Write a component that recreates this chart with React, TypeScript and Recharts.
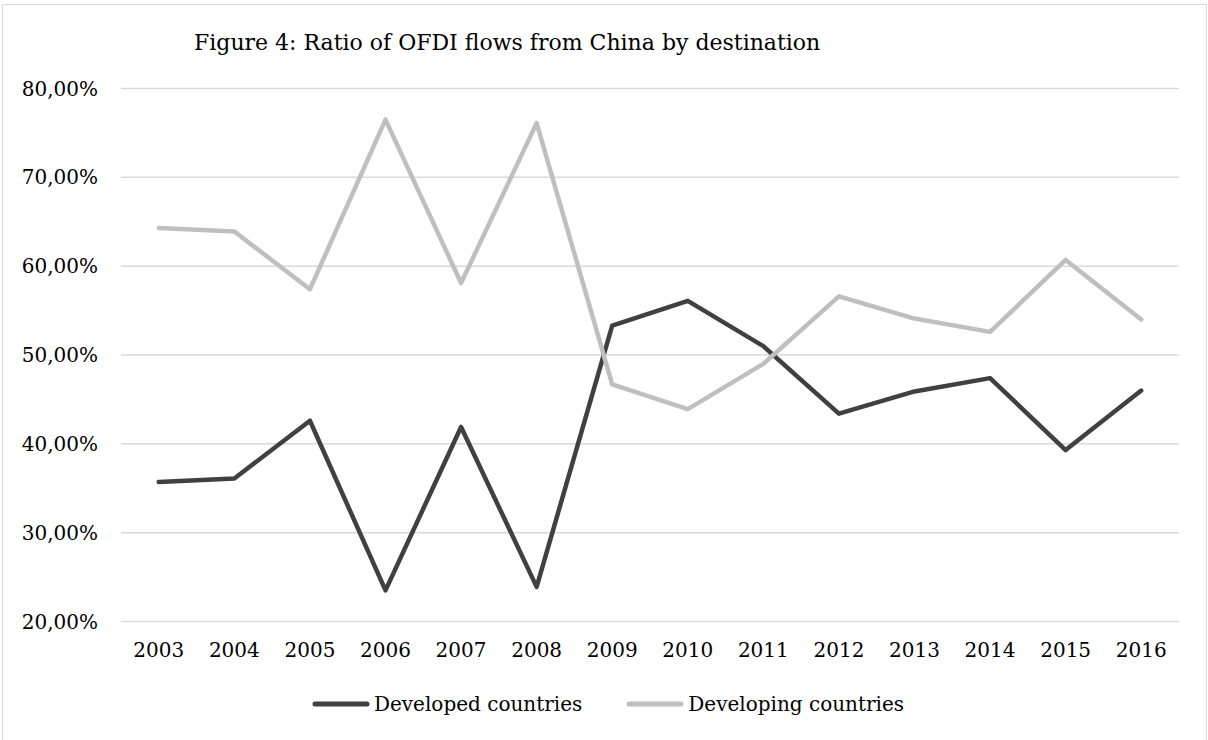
import React from "react";
import { LineChart, Line, XAxis, YAxis, CartesianGrid, Legend } from "recharts";

const years = ["2003", "2004", "2005", "2006", "2007", "2008", "2009", "2010", "2011", "2012", "2013", "2014", "2015", "2016"];
const developed = [35.7, 36.1, 42.6, 23.5, 41.9, 23.9, 53.3, 56.1, 51.0, 43.4, 45.9, 47.4, 39.3, 46.0];
const developing = [64.3, 63.9, 57.4, 76.5, 58.1, 76.1, 46.7, 43.9, 49.0, 56.6, 54.1, 52.6, 60.7, 54.0];
const yTicks = [20, 30, 40, 50, 60, 70, 80];

const data = years.map((year, i) => ({
  year,
  developed: developed[i] / 100,
  developing: developing[i] / 100,
}));

const FONT = "'DejaVu Serif', serif";
const DARK = "#404040";
const LIGHT = "#bfbfbf";

const pct = (v: number) => (v * 100).toFixed(2).replace(".", ",") + "%";

// half a category band on each side, so years sit in the middle of their slot
const BAND_PAD = (1208 - 121 - 29) / years.length / 2;

function LegendRow({ payload }: any) {
  return (
    <div style={{ display: "flex", justifyContent: "center", alignItems: "center", gap: 44, fontFamily: FONT, fontSize: 20, color: "#000", paddingLeft: 8 }}>
      {(payload || []).map((item: any) => (
        <div key={item.value} style={{ display: "flex", alignItems: "center", gap: 4 }}>
          <svg width={58} height={8}>
            <line x1={3} y1={4} x2={55} y2={4} stroke={item.color} strokeWidth={5} strokeLinecap="round" />
          </svg>
          <span>{item.value}</span>
        </div>
      ))}
    </div>
  );
}

export default function App() {
  return (
    <div style={{ position: "absolute", left: 0, top: 0, width: 1208, height: 740, background: "#fff", overflow: "hidden" }}>
      <div style={{ position: "absolute", left: 2, top: 4, width: 1205, height: 760, border: "1px solid #d9d9d9", boxSizing: "border-box" }} />
      <div style={{ position: "absolute", left: 194, top: 32, fontFamily: FONT, fontSize: 22, lineHeight: "22px", whiteSpace: "nowrap", color: "#000" }}>
        Figure 4: Ratio of OFDI flows from China by destination
      </div>
      <LineChart
        width={1208}
        height={740}
        data={data}
        margin={{ top: 88.5, right: 29, left: 0, bottom: 18.5 }}
        style={{ position: "absolute", left: 0, top: 0 }}
      >
        <CartesianGrid vertical={false} stroke="#d9d9d9" strokeWidth={1.5} />
        <XAxis
          dataKey="year"
          axisLine={false}
          tickLine={false}
          tickSize={0}
          tickMargin={21}
          height={60}
          interval={0}
          padding={{ left: BAND_PAD, right: BAND_PAD }}
          tick={{ fontFamily: FONT, fontSize: 20, fill: "#000" }}
        />
        <YAxis
          domain={[0.2, 0.8]}
          ticks={yTicks.map((t) => t / 100)}
          tickFormatter={pct}
          axisLine={false}
          tickLine={false}
          tickSize={0}
          tickMargin={23}
          width={121}
          tick={{ fontFamily: FONT, fontSize: 20, fill: "#000" }}
        />
        <Legend
          verticalAlign="bottom"
          content={<LegendRow />}
          wrapperStyle={{ position: "absolute", left: 0, top: 692, width: 1208, height: 40 }}
        />
        <Line
          name="Developed countries"
          dataKey="developed"
          stroke={DARK}
          strokeWidth={4.5}
          strokeLinejoin="round"
          strokeLinecap="round"
          dot={false}
          activeDot={false}
          isAnimationActive={false}
        />
        <Line
          name="Developing countries"
          dataKey="developing"
          stroke={LIGHT}
          strokeWidth={4.5}
          strokeLinejoin="round"
          strokeLinecap="round"
          dot={false}
          activeDot={false}
          isAnimationActive={false}
        />
      </LineChart>
    </div>
  );
}
